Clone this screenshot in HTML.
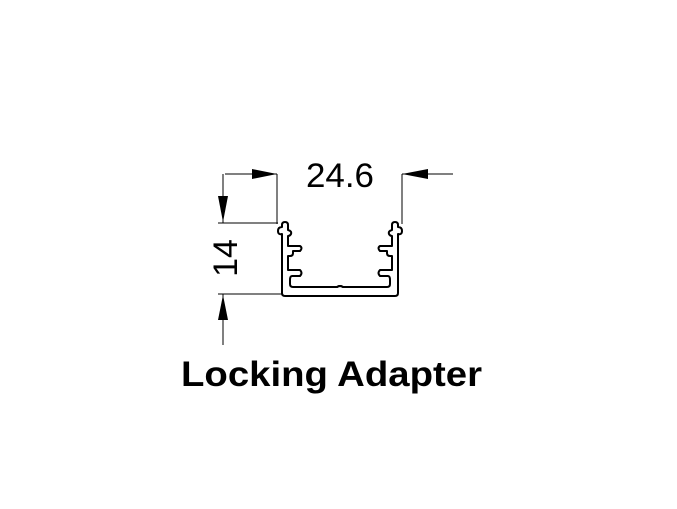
<!DOCTYPE html>
<html><head><style>
html,body{margin:0;padding:0;background:#fff;}
</style></head><body>
<svg width="677" height="504" viewBox="0 0 677 504" xmlns="http://www.w3.org/2000/svg">
<g stroke="#000" stroke-width="1" fill="none">
<line x1="225" y1="174" x2="277" y2="174"/>
<line x1="277" y1="174" x2="277" y2="224"/>
<line x1="402" y1="174" x2="453" y2="174"/>
<line x1="402" y1="174" x2="402" y2="224"/>
<line x1="223" y1="174" x2="223" y2="223"/>
<line x1="218" y1="223" x2="278" y2="223"/>
<line x1="218" y1="294" x2="282" y2="294"/>
<line x1="223" y1="294" x2="223" y2="345"/>
</g>
<g fill="#000">
<polygon points="277,174 252,169 252,179"/>
<polygon points="402,174 428,169 428,179"/>
<polygon points="223,222 218,196 228,196"/>
<polygon points="223,295 218,320 228,320"/>
</g>
<g stroke="#000" stroke-width="2" fill="none" stroke-linejoin="round">
<path id="lh" d="M340,296 L285,296 Q282,296 282,293 L282,234 Q278,235 278,231 Q278,227 282,227 L282,225 Q282,222 285,222 Q288,222 288,225 L288,230 Q292,231 291,234 Q290,236 288,236 L288,246 L300,246 Q303,248 300,251 L293,251 L293,253 Q293,256 290,256 L288,256 L288,270 L300,270 Q303,273 300,276 L292,276 Q290,276 290,280 L290,284 Q290,287 293,287 L337,287 Q340,285 343,287"/>
<use href="#lh" transform="translate(680,0) scale(-1,1)"/>
</g>
<text x="340" y="187" font-family="Liberation Sans, sans-serif" font-size="34" text-anchor="middle" fill="#000" textLength="68" lengthAdjust="spacingAndGlyphs">24.6</text>
<text transform="translate(237,258) rotate(-90)" font-family="Liberation Sans, sans-serif" font-size="34" text-anchor="middle" fill="#000">14</text>
<text x="181" y="386" font-family="Liberation Sans, sans-serif" font-weight="bold" font-size="35" fill="#000" textLength="301" lengthAdjust="spacingAndGlyphs">Locking Adapter</text>
</svg>
</body></html>
